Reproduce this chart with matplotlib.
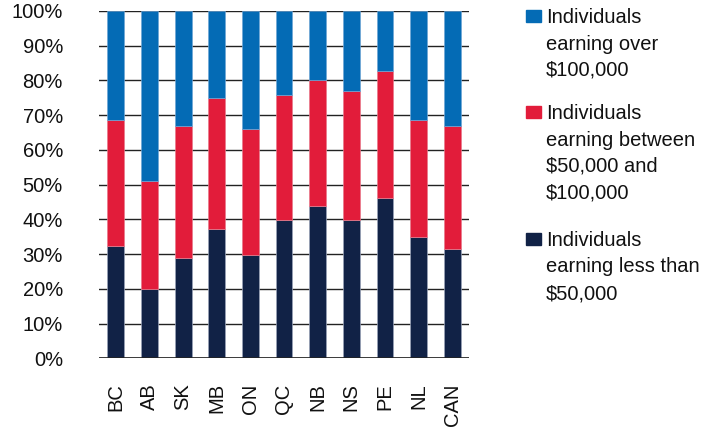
import numpy as np
import matplotlib
matplotlib.use("Agg")
from matplotlib import pyplot as plt
from matplotlib.patches import Rectangle

plt.rcParams['font.family'] = ['Liberation Sans', 'DejaVu Sans']

# provinces and share of individuals (%) by earnings group
provinces = ['BC', 'AB', 'SK', 'MB', 'ON', 'QC', 'NB', 'NS', 'PE', 'NL', 'CAN']
under_50k = [32.4, 20.0, 29.0, 37.2, 29.8, 39.7, 43.9, 39.7, 46.2, 34.8, 31.6]
between_50k_100k = [36.1, 31.1, 37.9, 37.8, 36.2, 36.2, 36.1, 37.2, 36.4, 33.7, 35.3]
over_100k = [31.5, 48.9, 33.1, 25.0, 34.0, 24.1, 20.0, 23.1, 17.4, 31.5, 33.1]

labels = ['Individuals\nearning over\n$100,000',
          'Individuals\nearning between\n$50,000 and\n$100,000',
          'Individuals\nearning less than\n$50,000']
colors = ['#046BB5', '#E21C3A', '#112246']  # over, between, under

W, H = 701, 434
fig = plt.figure(figsize=(W / 100, H / 100), dpi=100)
ax = fig.add_axes([99 / W, 1 - 358.3 / H, 370 / W, 347.3 / H])

x = np.arange(len(provinces))
bottom2 = np.array(under_50k)
bottom3 = bottom2 + np.array(between_50k_100k)
ax.bar(x, under_50k, width=0.5, color=colors[2], edgecolor='#9aa3b8', linewidth=0.5, zorder=2)
ax.bar(x, between_50k_100k, width=0.5, bottom=bottom2, color=colors[1], edgecolor='#e87a8c', linewidth=0.5, zorder=2)
ax.bar(x, over_100k, width=0.5, bottom=bottom3, color=colors[0], edgecolor='#6fa6d6', linewidth=0.5, zorder=2)

ax.set_xlim(-0.5, len(provinces) - 0.5)
ax.set_ylim(0, 100)
ax.set_yticks(np.arange(0, 101, 10))
ax.set_yticklabels([f'{v}%' for v in range(0, 101, 10)])
ax.set_xticks(x)
ax.set_xticklabels(provinces, rotation=90)
ax.tick_params(axis='y', length=0, pad=26, labelsize=14.5, colors='#111111')
ax.tick_params(axis='x', length=0, pad=18, labelsize=14.5, colors='#111111')
ax.yaxis.grid(True, color='#222222', linewidth=1.0, zorder=0)
ax.set_axisbelow(True)
for s in ax.spines.values():
    s.set_visible(False)
ax.axhline(0, color='#222222', linewidth=1.2, zorder=3)

# legend drawn by hand so that the swatch sits on the first line
tops = [8, 104, 231]
for lab, col, top in zip(labels, colors, tops):
    fig.add_artist(Rectangle((526 / W, 1 - (top + 14) / H), 15 / W, 12 / H,
                             transform=fig.transFigure, color=col))
    fig.text(546 / W, 1 - top / H, lab, ha='left', va='top', fontsize=14.5,
             color='#111111', linespacing=1.5)

fig.savefig('out.png', dpi=100)
